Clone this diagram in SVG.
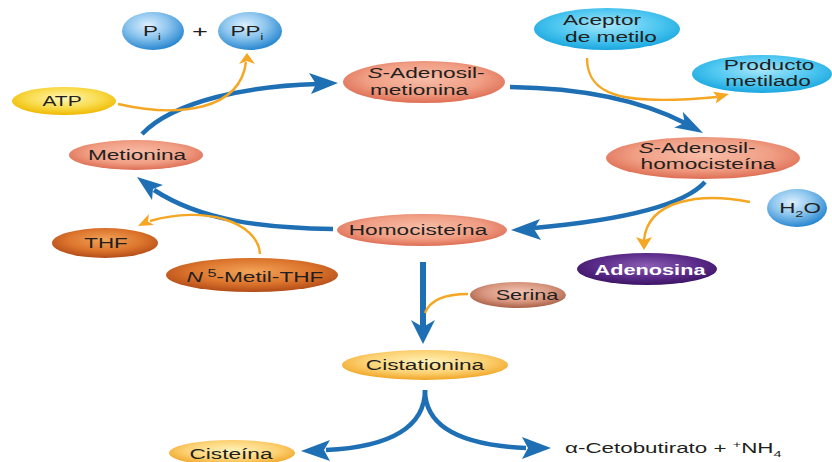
<svg xmlns="http://www.w3.org/2000/svg" width="832" height="462" viewBox="0 0 832 462">
<style>
text{font-family:"Liberation Sans",Arial,sans-serif;font-size:14px;fill:#231f20;text-anchor:middle}
.blue{fill:none;stroke:#1f6fb5;stroke-width:4.5}
.bh{fill:#1f6fb5}
.or{fill:none;stroke:#f5a623;stroke-width:2.4}
.oh{fill:#f5a623}
</style>
<defs>
<radialGradient id="gSal" cx="50%" cy="42%" r="60%"><stop offset="0" stop-color="#f8bda8"/><stop offset="0.6" stop-color="#f09e84"/><stop offset="1" stop-color="#dc6a50"/></radialGradient>
<radialGradient id="gBall" cx="42%" cy="35%" r="65%"><stop offset="0" stop-color="#dcefff"/><stop offset="0.5" stop-color="#8ec6ee"/><stop offset="1" stop-color="#2a88d0"/></radialGradient>
<radialGradient id="gCyan" cx="50%" cy="40%" r="60%"><stop offset="0" stop-color="#a6e6fa"/><stop offset="0.6" stop-color="#4cc6f0"/><stop offset="1" stop-color="#1aa6de"/></radialGradient>
<radialGradient id="gAtp" cx="50%" cy="40%" r="60%"><stop offset="0" stop-color="#fff7b8"/><stop offset="0.6" stop-color="#f8da48"/><stop offset="1" stop-color="#efb800"/></radialGradient>
<radialGradient id="gAde" cx="50%" cy="40%" r="60%"><stop offset="0" stop-color="#8a5cb2"/><stop offset="0.6" stop-color="#5c2c8a"/><stop offset="1" stop-color="#3c1464"/></radialGradient>
<radialGradient id="gThf" cx="50%" cy="40%" r="60%"><stop offset="0" stop-color="#f2a458"/><stop offset="0.6" stop-color="#dc742c"/><stop offset="1" stop-color="#b24c18"/></radialGradient>
<radialGradient id="gSer" cx="50%" cy="40%" r="60%"><stop offset="0" stop-color="#f2c6b6"/><stop offset="0.6" stop-color="#d8967e"/><stop offset="1" stop-color="#aa6048"/></radialGradient>
<radialGradient id="gCis" cx="50%" cy="40%" r="60%"><stop offset="0" stop-color="#fff2b8"/><stop offset="0.6" stop-color="#fcd274"/><stop offset="1" stop-color="#f0a424"/></radialGradient>
</defs>

<g id="connectors">
  <!-- blue cycle -->
  <path class="blue" d="M142,134 C175,100 250,86 317,84"/>
  <path class="bh" d="M338,83 L309,73 L316,84 L311,94 Z"/>
  <path class="blue" d="M510,87 C580,88 640,100 685,123"/>
  <path class="bh" d="M703,133 L682.8,111.7 L684.6,122.9 L674.2,127.5 Z"/>
  <path class="blue" d="M705,182 C680,210 600,222 534,228"/>
  <path class="bh" d="M511,230 L540,219 L534,229 L541,240 Z"/>
  <path class="blue" d="M333,229 C260,228 200,220 154,190"/>
  <path class="bh" d="M137,177 L163,185 L153,189 L152,200 Z"/>
  <path class="blue" style="stroke-width:6" d="M423,262 V328"/>
  <path class="bh" d="M423,344 L411,320 L423,327 L435,320 Z"/>
  <path class="blue" d="M425,390 C425,426 392,447 326,450"/>
  <path class="bh" d="M301,451 L330,440 L324,450 L330,461 Z"/>
  <path class="blue" d="M425,390 C425,426 458,445 526,448"/>
  <path class="bh" d="M551,448 L522,437 L528,448 L522,459 Z"/>
  <!-- orange side reactions -->
  <path class="or" d="M118,104 C180,118 240,110 246,62"/>
  <path class="oh" d="M247,53 L239,64 L247,61 L255,64 Z"/>
  <path class="or" d="M587,58 C587,95 620,106 717,97"/>
  <path class="oh" d="M729,94 L713,91.8 L717.4,96.9 L715.8,103.4 Z"/>
  <path class="or" d="M750,202 C700,192 648,200 644,240"/>
  <path class="oh" d="M644,250 L636,237 L644,240 L652,237 Z"/>
  <path class="or" d="M260,254 C258,222 205,205 150,221"/>
  <path class="oh" d="M138,226 L148.9,214.1 L148,221.5 L154,224.9 Z"/>
  <path class="or" d="M468,294 C445,294 430,300 425,313"/>
</g>

<g id="pi">
  <ellipse cx="153" cy="31" rx="31" ry="19" fill="url(#gBall)"/>
  <text transform="translate(152 36) scale(1.6 1)">P<tspan font-size="9" dy="4">i</tspan></text>
</g>
<g id="plus">
  <text transform="translate(200 37) scale(1.6 1)" style="font-size:17px">+</text>
</g>
<g id="ppi">
  <ellipse cx="250" cy="31" rx="32" ry="19" fill="url(#gBall)"/>
  <text transform="translate(247 36) scale(1.6 1)">PP<tspan font-size="9" dy="4">i</tspan></text>
</g>
<g id="atp">
  <ellipse cx="64" cy="101" rx="52" ry="14" fill="url(#gAtp)"/>
  <text transform="translate(62 106) scale(1.5 1)">ATP</text>
</g>
<g id="sam">
  <ellipse cx="424" cy="82" rx="81" ry="21" fill="url(#gSal)"/>
  <text transform="translate(426 78) scale(1.62 1)"><tspan font-style="italic">S</tspan>-Adenosil-</text>
  <text transform="translate(419 95) scale(1.62 1)">metionina</text>
</g>
<g id="aceptor">
  <ellipse cx="607" cy="29" rx="73" ry="21" fill="url(#gCyan)"/>
  <text transform="translate(602 25) scale(1.62 1)">Aceptor</text>
  <text transform="translate(611 42) scale(1.62 1)">de metilo</text>
</g>
<g id="producto">
  <ellipse cx="762" cy="74" rx="70" ry="19" fill="url(#gCyan)"/>
  <text transform="translate(769 70) scale(1.62 1)">Producto</text>
  <text transform="translate(768 86) scale(1.62 1)">metilado</text>
</g>
<g id="sah">
  <ellipse cx="703" cy="158" rx="97" ry="21" fill="url(#gSal)"/>
  <text transform="translate(697 153) scale(1.62 1)"><tspan font-style="italic">S</tspan>-Adenosil-</text>
  <text transform="translate(708 169) scale(1.62 1)">homocisteína</text>
</g>
<g id="h2o">
  <ellipse cx="797" cy="208" rx="30" ry="19" fill="url(#gBall)"/>
  <text transform="translate(800 213) scale(1.6 1)">H<tspan font-size="9" dy="4">2</tspan><tspan dy="-4">O</tspan></text>
</g>
<g id="adenosina">
  <ellipse cx="647" cy="269" rx="70" ry="16" fill="url(#gAde)"/>
  <text transform="translate(650 275) scale(1.55 1)" style="fill:#fff;font-weight:bold">Adenosina</text>
</g>
<g id="metionina">
  <ellipse cx="136" cy="155" rx="67" ry="15" fill="url(#gSal)"/>
  <text transform="translate(137 160) scale(1.62 1)">Metionina</text>
</g>
<g id="homocisteina">
  <ellipse cx="422" cy="230" rx="85" ry="16" fill="url(#gSal)"/>
  <text transform="translate(418 235) scale(1.62 1)">Homocisteína</text>
</g>
<g id="thf">
  <ellipse cx="105" cy="243" rx="53" ry="15" fill="url(#gThf)"/>
  <text transform="translate(106 248) scale(1.6 1)">THF</text>
</g>
<g id="n5metilthf">
  <ellipse cx="252" cy="275" rx="86" ry="17" fill="url(#gThf)"/>
  <text transform="translate(255 282) scale(1.62 1)"><tspan font-style="italic">N</tspan><tspan font-size="10" dy="-5"> 5</tspan><tspan dy="5">-Metil-THF</tspan></text>
</g>
<g id="serina">
  <ellipse cx="518" cy="295" rx="48" ry="13" fill="url(#gSer)"/>
  <text transform="translate(527 300) scale(1.55 1)">Serina</text>
</g>
<g id="cistationina">
  <ellipse cx="425" cy="365" rx="83" ry="15" fill="url(#gCis)"/>
  <text transform="translate(425 370) scale(1.62 1)">Cistationina</text>
</g>
<g id="cisteina">
  <ellipse cx="232" cy="453" rx="63" ry="13" fill="url(#gCis)"/>
  <text transform="translate(231 459) scale(1.62 1)">Cisteína</text>
</g>
<g id="cetobutirato">
  <text transform="translate(565 453) scale(1.6 1)" style="text-anchor:start">α-Cetobutirato + <tspan font-size="9" dy="-5">+</tspan><tspan dy="5">NH</tspan><tspan font-size="9" dy="4">4</tspan></text>
</g>
</svg>
